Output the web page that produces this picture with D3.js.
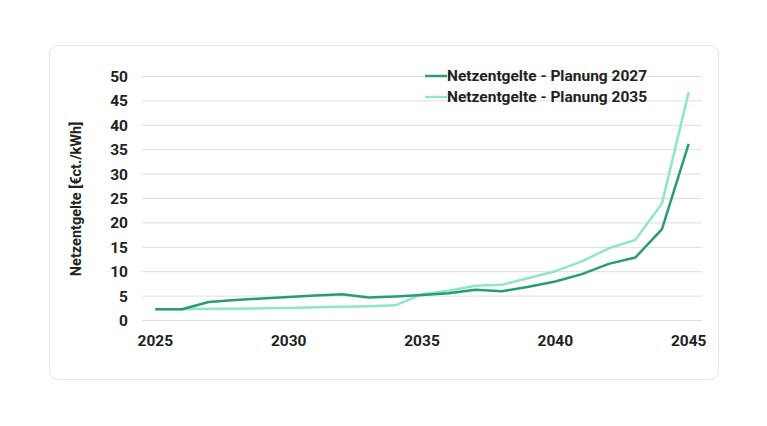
<!DOCTYPE html>
<html>
<head>
<meta charset="utf-8">
<script src="https://cdn.jsdelivr.net/npm/d3@7"></script>
<style>
  html, body { margin: 0; padding: 0; background: #fff; }
  text { font-family: Roboto, "Liberation Sans", sans-serif; font-weight: 700; fill: #222; }
</style>
</head>
<body>
<div id="chart"></div>
<script>
var width = 767, height = 426;

// data
var years = [2025, 2026, 2027, 2028, 2029, 2030, 2031, 2032, 2033, 2034, 2035,
             2036, 2037, 2038, 2039, 2040, 2041, 2042, 2043, 2044, 2045];
var planung2027 = [2.2, 2.2, 3.7, 4.1, 4.4, 4.7, 5.0, 5.3, 4.6, 4.8, 5.1,
                   5.5, 6.2, 5.9, 6.8, 7.9, 9.4, 11.5, 12.8, 18.6, 36.1];
var planung2035 = [2.2, 2.2, 2.3, 2.3, 2.4, 2.45, 2.6, 2.7, 2.8, 3.0, 5.3,
                   6.0, 7.0, 7.2, 8.6, 10.0, 12.0, 14.7, 16.4, 23.9, 46.7];
var yTicks = [0, 5, 10, 15, 20, 25, 30, 35, 40, 45, 50];
var xLabels = [2025, 2030, 2035, 2040, 2045];
var seriesNames = ["Netzentgelte - Planung 2027", "Netzentgelte - Planung 2035"];
var seriesColors = ["#2a9b7a", "#8fe6c8"];

var svg = d3.select("#chart").append("svg")
	.attr("width", width)
	.attr("height", height);

// card frame
svg.append("rect")
	.attr("x", 49.5).attr("y", 45.5)
	.attr("width", 669).attr("height", 334)
	.attr("rx", 8).attr("ry", 8)
	.attr("fill", "#fff")
	.attr("stroke", "#e4e4e4")
	.attr("stroke-width", 1);

var plot = {left: 142, right: 702, top: 76, bottom: 320};

var x = d3.scaleBand()
	.domain(years)
	.range([plot.left, plot.right]);

var y = d3.scaleLinear()
	.domain([0, 50])
	.range([plot.bottom, plot.top]);

// gridlines
svg.append("g").selectAll("line")
	.data(yTicks)
	.join("line")
	.attr("x1", plot.left).attr("x2", plot.right)
	.attr("y1", function(d){ return y(d) + 0.5; })
	.attr("y2", function(d){ return y(d) + 0.5; })
	.attr("stroke", "#dedede")
	.attr("stroke-width", 1);

// y tick labels
var yAxis = svg.append("g")
	.attr("transform", "translate(" + (plot.left - 14) + ",0)")
	.call(d3.axisLeft(y).tickValues(yTicks).tickSize(0).tickPadding(0));
yAxis.select(".domain").remove();
yAxis.selectAll("text")
	.attr("font-size", 15.5)
	.attr("dy", "0.35em")
	.style("font-family", "Roboto, sans-serif")
	.style("font-weight", 700)
	.attr("fill", "#222");

// x tick labels
var xAxis = svg.append("g")
	.attr("transform", "translate(0," + (plot.bottom + 15) + ")")
	.call(d3.axisBottom(x).tickValues(xLabels).tickSize(0).tickPadding(0));
xAxis.select(".domain").remove();
xAxis.selectAll("text")
	.attr("font-size", 15.5)
	.attr("dy", "0.71em")
	.style("font-family", "Roboto, sans-serif")
	.style("font-weight", 700)
	.attr("fill", "#222");

// y axis title
svg.append("text")
	.attr("transform", "translate(81," + ((plot.top + plot.bottom) / 2 + 1) + ") rotate(-90)")
	.attr("text-anchor", "middle")
	.attr("font-size", 14.5)
	.text("Netzentgelte [€ct./kWh]");

var line = d3.line()
	.x(function(d, i){ return x(years[i]) + x.bandwidth() / 2; })
	.y(function(d){ return y(d); });

var seriesList = [planung2027, planung2035];

// draw light series first so the dark one sits on top
[1, 0].forEach(function(k){
	svg.append("path")
		.datum(seriesList[k])
		.attr("d", line)
		.attr("fill", "none")
		.attr("stroke", seriesColors[k])
		.attr("stroke-width", 2.5)
		.attr("stroke-linejoin", "round");
});

// legend
var legend = svg.append("g").attr("transform", "translate(425,76)");
seriesNames.forEach(function(name, i){
	var g = legend.append("g").attr("transform", "translate(0," + (i * 21) + ")");
	g.append("line")
		.attr("x1", 0).attr("x2", 22)
		.attr("y1", 0).attr("y2", 0)
		.attr("stroke", seriesColors[i])
		.attr("stroke-width", 2.5);
	g.append("text")
		.attr("x", 22)
		.attr("dy", "0.35em")
		.attr("font-size", 15.5)
		.text(name);
});
</script>
</body>
</html>
